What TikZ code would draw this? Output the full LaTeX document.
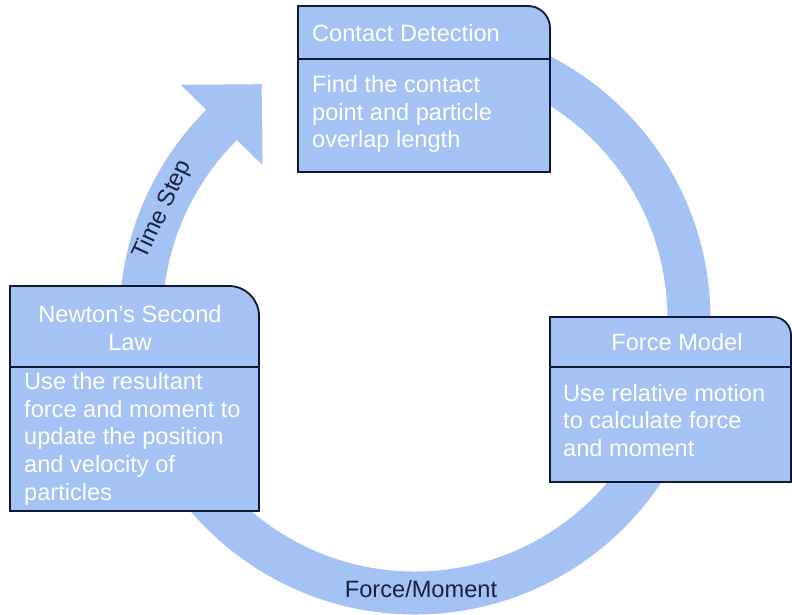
\documentclass[tikz,border=0pt]{standalone}
\usepackage{fontspec}
\setmainfont{Liberation Sans}
\usepackage{tikz}
\usetikzlibrary{arrows.meta, positioning}
\definecolor{cyclefill}{RGB}{164,194,244}
\definecolor{boxedge}{RGB}{14,24,50}
\definecolor{labeltext}{RGB}{24,34,64}
\tikzset{
	boxline/.style={draw=boxedge, line width=1.8pt, fill=cyclefill},
	band/.style={draw=cyclefill, line width=43pt},
	boxtext/.style={text=white, inner sep=0pt, font=\fontsize{23.6}{27.6}\selectfont},
	cyclelabel/.style={text=labeltext, inner sep=0pt, font=\fontsize{23.6}{27.6}\selectfont}
}
% x0, y0, x1, y1, divider, corner radius
\newcommand{\stagebox}[6]{
	\draw[boxline] (#1,#2) -- (#1,#4) -- (#3-#6,#4) arc[start angle=90, end angle=0, radius=#6] -- (#3,#2) -- cycle;
	\draw[boxline] (#1,#5) -- (#3,#5);
}

\begin{document}
\begin{tikzpicture}[x=1pt, y=1pt]
	\useasboundingbox (0,0) rectangle (792,614);
	% the cycle
	\coordinate (hub) at (415,295);
	\draw[band, -{Triangle[length=57pt, width=114pt, line width=0.01pt]}]
		(hub) ++(95:274) arc[start angle=95, end angle=-224.5, radius=274] -- ++(45.5:60);
	\node[cyclelabel, rotate=65] (timestep) at (163,404) {Time Step};
	\node[cyclelabel, anchor=base] (forcemoment) at (421,17) {Force/Moment};

	% Contact Detection (base = last line)
	\stagebox{298}{442}{550}{608}{555}{22}
	\node[boxtext, anchor=base west] (contacthead) at (312,572.3) {Contact Detection};
	\node[boxtext, anchor=base west, align=left] (contactbody) at (312,466)
		{Find the contact\\point and particle\\overlap length};

	% Force Model
	\stagebox{550}{132}{791}{297}{247}{18}
	\node[boxtext, anchor=base] (forcehead) at (677,264) {Force Model};
	\node[boxtext, anchor=base west, align=left] (forcebody) at (563,157.5)
		{Use relative motion\\to calculate force\\and moment};

	% Newton's Second Law
	\stagebox{10}{103}{259}{328}{247}{30}
	\node[boxtext, anchor=base, align=center] (newtonhead) at (130,264)
		{Newton's Second\\Law};
	\node[boxtext, anchor=base west, align=left] (newtonbody) at (24,114)
		{Use the resultant\\force and moment to\\update the position\\and velocity of\\particles};
\end{tikzpicture}
\end{document}
